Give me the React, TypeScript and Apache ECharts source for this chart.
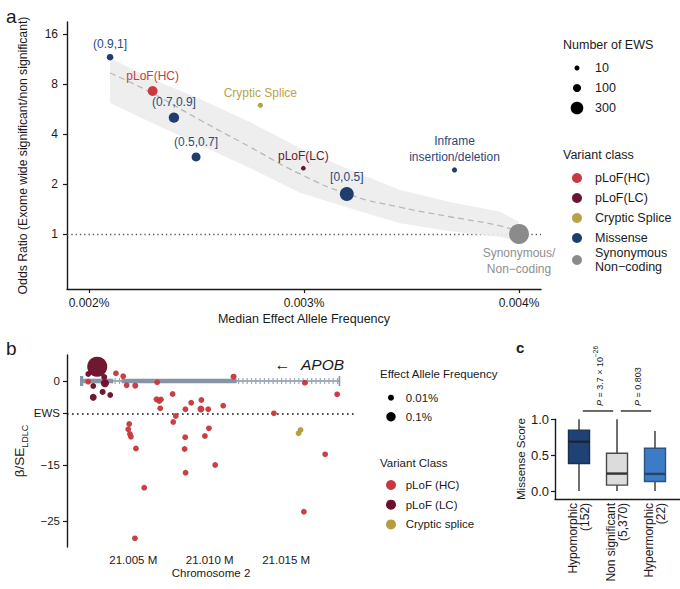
import { useEffect, useRef } from 'react';
import * as echarts from 'echarts';

const FONT = '"Liberation Sans", Arial, Helvetica, sans-serif';
const INK = '#1a1a1a';

// ---------- a: odds ratio vs median effect allele frequency
const aNames = ['(0.9,1]', 'pLoF(HC)', '(0.7,0.9]', '(0.5,0.7]', 'Cryptic Splice', 'pLoF(LC)', '[0,0.5]', 'Inframe\ninsertion/deletion', 'Synonymous/\nNon−coding'];
const aClass = ['Missense', 'pLoF(HC)', 'Missense', 'Missense', 'Cryptic Splice', 'pLoF(LC)', 'Missense', 'Missense', 'Synonymous'];
const aFreq = [0.002098, 0.002296, 0.002395, 0.002498, 0.002797, 0.002997, 0.003199, 0.0037, 0.004];
const aOdds = [11.6, 7.26, 5.02, 2.91, 5.95, 2.49, 1.74, 2.43, 1.0];
const aEws = [50, 170, 190, 130, 15, 3, 380, 15, 820];

// fitted trend and its confidence band
const fitFreq = [0.002098, 0.002284, 0.002516, 0.002749, 0.002981, 0.003214, 0.003447, 0.003679, 0.003912, 0.004];
const fitOdds = [9.32, 7.16, 4.86, 3.34, 2.3, 1.72, 1.45, 1.27, 1.12, 1.03];
const fitUpper = [11.47, 8.69, 6.5, 4.72, 3.29, 2.43, 1.84, 1.56, 1.36, 1.18];
const fitLower = [6.15, 4.72, 3.43, 2.5, 1.77, 1.43, 1.16, 1.04, 0.96, 0.9];

const aOddsTicks = [1, 2, 4, 8, 16];
const aFreqTicks = [0.002, 0.003, 0.004];
const ewsLegend = [10, 100, 300];
const aClassNames = ['pLoF(HC)', 'pLoF(LC)', 'Cryptic Splice', 'Missense', 'Synonymous'];
const aClassLegend = ['pLoF(HC)', 'pLoF(LC)', 'Cryptic Splice', 'Missense', 'Synonymous\nNon−coding'];
const aColors = ['#c93a40', '#6a1430', '#b9a245', '#1f3e6e', '#8b8b8b'];
const aLabelColors = ['#c63d44', '#6a1733', '#b7a44c', '#2a4a7a', '#8e8e8e'];

// ---------- b: APOB variants
const bClassNames = ['pLoF (HC)', 'pLoF (LC)', 'Cryptic splice'];
const bColors = ['#c7393f', '#6b0f2b', '#b59c3e'];
const bPos = [
  // pLoF (LC)
  21.002647, 21.002386, 21.002386, 21.003, 21.003497, 21.00315, 21.003105, 21.002059,
  // pLoF (HC)
  21.002059, 21.003869, 21.004346, 21.004569, 21.005131, 21.006569, 21.004739, 21.004673,
  21.004784, 21.00485, 21.005176, 21.005719, 21.005111, 21.006529, 21.006699, 21.00681,
  21.006765, 21.007575, 21.007778, 21.007614, 21.008412, 21.008791, 21.009458, 21.009425,
  21.009902, 21.010882, 21.008399, 21.008359, 21.009686, 21.009948, 21.008425, 21.010359,
  21.011562, 21.014196, 21.016222, 21.018333, 21.017549, 21.016157,
  // cryptic splice
  21.01581, 21.015941,
];
const bBeta = [
  2.55, -0.89, -2.91, -1.96, -2.5, -0.41, 0.71, 1.25,
  -0.12, 1.37, 0.84, -0.77, -0.84, -0.23, -7.68, -8.63,
  -9.46, -9.95, -12.05, -19.05, -28.09, -3.27, -3.57, -3.3,
  -4.88, -2.32, -6.25, -7.32, -5.05, -3.88, -3.39, -5.0,
  -5.05, -4.41, -10.05, -12.14, -9.82, -8.45, -16.38, -15.0,
  0.77, -5.77, -0.3, -2.38, -13.09, -23.34,
  -9.34, -8.75,
];
const bAF = [
  0.65, 0.005, 0.03, 0.01, 0.005, 0.06, 0.01, 0.005,
  0.005, 0.005, 0.005, 0.005, 0.01, 0.005, 0.005, 0.005,
  0.005, 0.005, 0.005, 0.005, 0.005, 0.01, 0.01, 0.005,
  0.005, 0.005, 0.005, 0.005, 0.005, 0.005, 0.005, 0.03,
  0.005, 0.005, 0.005, 0.005, 0.005, 0.005, 0.005, 0.005,
  0.01, 0.005, 0.005, 0.005, 0.005, 0.005,
  0.005, 0.005,
];
const bClass = [
  1, 1, 1, 1, 1, 1, 1, 1,
  0, 0, 0, 0, 0, 0, 0, 0,
  0, 0, 0, 0, 0, 0, 0, 0,
  0, 0, 0, 0, 0, 0, 0, 0,
  0, 0, 0, 0, 0, 0, 0, 0,
  0, 0, 0, 0, 0, 0,
  2, 2,
];
const EWS = -5.77;
const bTicks = [0, EWS, -15, -25];
const bPosTicks = [21.005, 21.01, 21.015];
const afLegend = [0.01, 0.1];

// APOB gene model (Mb)
const apobStart = 21.00152;
const apobEnd = 21.01846;
const apobExons = [[21.00152, 21.00173], [21.01843, 21.01849]];
const apobBlocks = [[21.00173, 21.00369], [21.00424, 21.01176]];

// ---------- c: missense score
const cGroups = ['Hypomorphic\n(152)', 'Non significant\n(5,370)', 'Hypermorphic\n(22)'];
// min, Q1, median, Q3, max
const cStats = [
  [0.01, 0.39, 0.69, 0.85, 1.0],
  [0.01, 0.09, 0.25, 0.53, 1.0],
  [0.01, 0.14, 0.245, 0.6, 0.84],
];
const cCompare = [[0, 1], [1, 2]];
const cPMantissa = ['3.7 × 10', '0.803'];
const cPExponent = ['−26', ''];
const cTicks = [0, 0.5, 1];

const cFill = ['#1f4276', '#dcdcdc', '#3b7cc4'];
const cStroke = ['#1b2f52', '#4a4a4a', '#2d5385'];
const cMedian = ['#1a2638', '#333333', '#264468'];

const ewsRadius = (n: number) => Math.sqrt(5 + 0.115 * n);
const afRadius = (af: number) => Math.sqrt(7.6 + 144 * af);

function buildOption() {
  const aSeries = aClassNames.map((cls, ci) => ({
    type: 'scatter',
    name: cls,
    xAxisIndex: 0,
    yAxisIndex: 0,
    z: 5,
    itemStyle: { color: aColors[ci], opacity: 1 },
    label: {
      show: true,
      formatter: '{b}',
      color: aLabelColors[ci],
      fontSize: 12,
      fontFamily: FONT,
      position: 'top',
      distance: 2,
      lineHeight: 16,
    },
    data: aNames.flatMap((nm, i) =>
      aClass[i] !== cls
        ? []
        : [{
            name: nm,
            value: [aFreq[i], Math.log2(aOdds[i])],
            symbolSize: 2 * ewsRadius(aEws[i]),
            ...(cls === 'Synonymous' ? { label: { position: 'bottom', distance: 1 } } : {}),
          }]
    ),
    ...(ci === 0
      ? {
          markLine: {
            silent: true,
            symbol: 'none',
            z: 1,
            label: { show: false },
            lineStyle: { color: '#555', type: [1.3, 3], width: 1.3 },
            data: [{ yAxis: 0 }],
          },
        }
      : {}),
  }));

  const bOrder = [0, 2, 1];
  const bSeries = bOrder.map((ci, k) => ({
    type: 'scatter',
    name: bClassNames[ci],
    xAxisIndex: 1,
    yAxisIndex: 1,
    z: 5 + k,
    itemStyle: { color: bColors[ci], opacity: 0.97 },
    data: bPos.flatMap((p, i) =>
      bClass[i] !== ci ? [] : [{ value: [p, bBeta[i]], symbolSize: 2 * afRadius(bAF[i]) }]
    ),
    ...(ci === 0
      ? {
          markLine: {
            silent: true,
            symbol: 'none',
            label: { show: false },
            lineStyle: { color: '#111', type: [1.6, 3.4], width: 1.6 },
            data: [{ yAxis: EWS }],
          },
        }
      : {}),
  }));

  const geneSeries = {
    type: 'custom',
    xAxisIndex: 1,
    yAxisIndex: 1,
    z: 2,
    silent: true,
    clip: false,
    data: [[apobStart, 0]],
    renderItem: (_p: any, api: any) => {
      const gray = '#8595a7';
      const [x0, y0] = api.coord([apobStart, 0]);
      const [x1] = api.coord([apobEnd, 0]);
      const children: any[] = [
        { type: 'line', shape: { x1: x0, y1: y0, x2: x1, y2: y0 }, style: { stroke: gray, lineWidth: 1.5 } },
      ];
      // strand arrows along the introns
      const gaps: number[][] = [];
      for (let i = 0; i < apobBlocks.length; i++) {
        const next = i + 1 < apobBlocks.length ? apobBlocks[i + 1][0] : apobExons[1][0];
        gaps.push([apobBlocks[i][1], next]);
      }
      gaps.forEach(([g0, g1]) => {
        const a = api.coord([g0, 0])[0];
        const b = api.coord([g1, 0])[0];
        for (let x = a + 2; x < b - 1; x += 4.3) {
          children.push({ type: 'line', shape: { x1: x, y1: y0 - 3, x2: x, y2: y0 + 3 }, style: { stroke: '#9aa8b8', lineWidth: 1.2 } });
        }
      });
      apobBlocks.forEach(([s, e]) => {
        const a = api.coord([s, 0])[0];
        const b = api.coord([e, 0])[0];
        children.push({ type: 'rect', shape: { x: a, y: y0 - 2.3, width: b - a, height: 4.6 }, style: { fill: gray } });
      });
      apobExons.forEach(([s, e]) => {
        const a = api.coord([s, 0])[0];
        const b = api.coord([e, 0])[0];
        children.push({ type: 'rect', shape: { x: a, y: y0 - 5, width: Math.max(b - a, 1.6), height: 10 }, style: { fill: gray } });
      });
      children.push({
        type: 'text',
        x: x1 + 5,
        y: y0 - 16,
        style: {
          text: '{a|← }{g|APOB}',
          align: 'right',
          verticalAlign: 'middle',
          rich: {
            a: { fontSize: 16, fontFamily: FONT, fill: INK },
            g: { fontSize: 15.5, fontFamily: FONT, fontStyle: 'italic', fill: INK, padding: [0, 0, 0, 6] },
          },
        },
      });
      return { type: 'group', children };
    },
  };

  const boxSeries = {
    type: 'custom',
    xAxisIndex: 2,
    yAxisIndex: 2,
    z: 3,
    data: cStats.map((s, i) => [i, ...s]),
    encode: { x: 0, y: [1, 2, 3, 4, 5] },
    renderItem: (params: any, api: any) => {
      const i = params.dataIndex;
      const bw = api.size([0.553, 0])[0];
      const x = api.coord([i, 0])[0];
      const y = (k: number) => api.coord([i, api.value(k)])[1];
      const yMin = y(1), yQ1 = y(2), yMed = y(3), yQ3 = y(4), yMax = y(5);
      return {
        type: 'group',
        children: [
          { type: 'line', shape: { x1: x, y1: yMax, x2: x, y2: yMin }, style: { stroke: '#555', lineWidth: 1.7 } },
          { type: 'rect', shape: { x: x - bw / 2, y: yQ3, width: bw, height: yQ1 - yQ3 }, style: { fill: cFill[i], stroke: cStroke[i], lineWidth: 1.4 } },
          { type: 'line', shape: { x1: x - bw / 2, y1: yMed, x2: x + bw / 2, y2: yMed }, style: { stroke: cMedian[i], lineWidth: 2.4 } },
        ],
      };
    },
  };

  const BRACKET_Y = 1.115;
  const bracketSeries = {
    type: 'custom',
    xAxisIndex: 2,
    yAxisIndex: 2,
    z: 4,
    clip: false,
    silent: true,
    data: cCompare.map((_c, k) => [k, BRACKET_Y]),
    renderItem: (params: any, api: any) => {
      const k = params.dataIndex;
      const [a, b] = cCompare[k];
      const p1 = api.coord([a + 0.1, BRACKET_Y]);
      const p2 = api.coord([b - 0.1, BRACKET_Y]);
      const mid = (p1[0] + p2[0]) / 2;
      const txt = cPExponent[k]
        ? `{i|P}{n| = ${cPMantissa[k]}}{s|${cPExponent[k]}}`
        : `{i|P}{n| = ${cPMantissa[k]}}`;
      return {
        type: 'group',
        children: [
          { type: 'line', shape: { x1: p1[0], y1: p1[1], x2: p2[0], y2: p2[1] }, style: { stroke: INK, lineWidth: 1.3 } },
          {
            type: 'text',
            x: mid,
            y: p1[1] - 5,
            rotation: Math.PI / 2,
            style: {
              text: txt,
              fontSize: 9,
              fontFamily: FONT,
              fill: INK,
              align: 'left',
              verticalAlign: 'middle',
              rich: {
                i: { fontSize: 9, fontFamily: FONT, fontStyle: 'italic', fill: INK, lineHeight: 12, verticalAlign: 'bottom' },
                n: { fontSize: 9, fontFamily: FONT, fill: INK, lineHeight: 12, verticalAlign: 'bottom' },
                s: { fontSize: 6.5, fontFamily: FONT, fill: INK, lineHeight: 7, verticalAlign: 'top' },
              },
            },
          },
        ],
      };
    },
  };

  const txt = (x: number, y: number, text: string, size: number, extra: any = {}) => ({
    type: 'text',
    x,
    y,
    silent: true,
    style: { text, fontSize: size, fontFamily: FONT, fill: INK, align: 'left', verticalAlign: 'middle', ...extra },
  });

  const graphic: any[] = [
    txt(6, 16, 'a', 19),
    txt(6, 348, 'b', 19),
    txt(516, 347, 'c', 15, { fontWeight: 'bold' }),
    // legend a
    txt(563, 45, 'Number of EWS', 12.5),
    ...ewsLegend.flatMap((n, i) => [
      { type: 'circle', silent: true, shape: { cx: 577, cy: 68 + i * 20, r: ewsRadius(n) }, style: { fill: '#000' } },
      txt(595, 68 + i * 20, String(n), 12.5),
    ]),
    txt(563, 155, 'Variant class', 12.5),
    ...aClassLegend.flatMap((nm, i) => {
      const cy = 178 + i * 20 + (i === 4 ? 2 : 0);
      return [
        { type: 'circle', silent: true, shape: { cx: 577, cy, r: 5 }, style: { fill: aColors[i] } },
        txt(595, cy, nm, 12.5, { lineHeight: 14 }),
      ];
    }),
    // legend b
    txt(380, 374, 'Effect Allele Frequency', 11.5),
    ...afLegend.flatMap((af, i) => [
      { type: 'circle', silent: true, shape: { cx: 391, cy: 397.7 + i * 19, r: afRadius(af) }, style: { fill: '#000' } },
      txt(405.7, 397.7 + i * 19, `${af}%`, 11.5),
    ]),
    txt(380, 462.7, 'Variant Class', 11.5),
    ...bClassNames.flatMap((nm, i) => [
      { type: 'circle', silent: true, shape: { cx: 391, cy: 485 + i * 19.7, r: 5 }, style: { fill: bColors[i] } },
      txt(405.7, 485 + i * 19.7, nm, 11.5),
    ]),
  ];

  const axisLine = { show: true, onZero: false, lineStyle: { color: INK, width: 1.4 } };
  const tickStyle = { color: INK, width: 1.2 };

  return {
    animation: false,
    textStyle: { fontFamily: FONT },
    grid: [
      { left: 67, top: 22, width: 474, height: 267 },
      { left: 67, top: 355, width: 288, height: 192 },
      { left: 555, top: 419.3, width: 125, height: 79.6 },
    ],
    xAxis: [
      {
        gridIndex: 0,
        type: 'value',
        min: 0.0018977,
        max: 0.0041023,
        name: 'Median Effect Allele Frequency',
        nameLocation: 'middle',
        nameGap: 23,
        nameTextStyle: { fontSize: 12.5, color: INK, fontFamily: FONT },
        axisLine,
        axisTick: { show: true, customValues: aFreqTicks, length: 4, lineStyle: tickStyle },
        axisLabel: { customValues: aFreqTicks, formatter: (v: number) => `${v.toFixed(3)}%`, fontSize: 12, color: INK, margin: 8 },
        splitLine: { show: false },
      },
      {
        gridIndex: 1,
        type: 'value',
        min: 21.00067,
        max: 21.0195,
        name: 'Chromosome 2',
        nameLocation: 'middle',
        nameGap: 19,
        nameTextStyle: { fontSize: 11.5, color: INK, fontFamily: FONT },
        axisLine: { show: false, onZero: false },
        axisTick: { show: false },
        axisLabel: { customValues: bPosTicks, formatter: (v: number) => `${v.toFixed(3)} M`, fontSize: 11.5, color: INK, margin: 7 },
        splitLine: { show: false },
      },
      {
        gridIndex: 2,
        type: 'value',
        min: -0.632,
        max: 2.658,
        axisLine,
        axisTick: { show: false },
        axisLabel: {
          customValues: [0, 1, 2],
          formatter: (v: number) => cGroups[Math.round(v)],
          rotate: 90,
          fontSize: 12,
          lineHeight: 12.5,
          color: INK,
          margin: 4,
        },
        splitLine: { show: false },
      },
    ],
    yAxis: [
      {
        gridIndex: 0,
        type: 'value',
        min: -1.1,
        max: 4.24,
        name: 'Odds Ratio (Exome wide significant/non significant)',
        nameLocation: 'middle',
        nameGap: 38,
        nameTextStyle: { fontSize: 12.2, color: INK, fontFamily: FONT },
        axisLine,
        axisTick: { show: true, customValues: aOddsTicks.map(Math.log2), length: 4, lineStyle: tickStyle },
        axisLabel: {
          customValues: aOddsTicks.map(Math.log2),
          formatter: (v: number) => String(Math.round(Math.pow(2, v))),
          fontSize: 12,
          color: INK,
          margin: 9,
        },
        splitLine: { show: false },
      },
      {
        gridIndex: 1,
        type: 'value',
        min: -29.64,
        max: 4.64,
        name: '{t|β/SE}{s|LDLC}',
        nameLocation: 'middle',
        nameGap: 26,
        nameTextStyle: {
          color: INK,
          rich: {
            t: { fontSize: 13.5, fontFamily: FONT, color: INK, lineHeight: 15, verticalAlign: 'top' },
            s: { fontSize: 9, fontFamily: FONT, color: INK, lineHeight: 9, padding: [8, 0, 0, 0], verticalAlign: 'top' },
          },
        },
        axisLine,
        axisTick: { show: true, customValues: bTicks, length: 4, lineStyle: tickStyle },
        axisLabel: {
          customValues: bTicks,
          formatter: (v: number) => (Math.abs(v - EWS) < 0.01 ? 'EWS' : v < 0 ? `−${Math.abs(v)}` : String(v)),
          fontSize: 11.5,
          color: INK,
          margin: 7,
        },
        splitLine: { show: false },
      },
      {
        gridIndex: 2,
        type: 'value',
        min: -0.1,
        max: 1.0,
        name: 'Missense Score',
        nameLocation: 'middle',
        nameGap: 28,
        nameTextStyle: { fontSize: 11.5, color: INK, fontFamily: FONT },
        axisLine,
        axisTick: { show: true, customValues: cTicks, length: 4, lineStyle: tickStyle },
        axisLabel: { customValues: cTicks, formatter: (v: number) => v.toFixed(1), fontSize: 13, color: INK, margin: 6 },
        splitLine: { show: false },
      },
    ],
    series: [
      {
        type: 'custom',
        xAxisIndex: 0,
        yAxisIndex: 0,
        z: 1,
        silent: true,
        data: [[fitFreq[0], Math.log2(fitOdds[0])]],
        renderItem: (_p: any, api: any) => {
          const up = fitFreq.map((x, i) => api.coord([x, Math.log2(fitUpper[i])]));
          const lo = fitFreq.map((x, i) => api.coord([x, Math.log2(fitLower[i])])).reverse();
          return { type: 'polygon', shape: { points: [...up, ...lo] }, style: { fill: '#ececec', opacity: 0.9 } };
        },
      },
      {
        type: 'line',
        xAxisIndex: 0,
        yAxisIndex: 0,
        z: 2,
        silent: true,
        smooth: true,
        showSymbol: false,
        lineStyle: { color: '#b8b8b8', width: 1.3, type: [6, 4] },
        data: fitFreq.map((x, i) => [x, Math.log2(fitOdds[i])]),
      },
      ...aSeries,
      geneSeries,
      ...bSeries,
      boxSeries,
      bracketSeries,
    ],
    graphic,
  };
}

export default function App() {
  const ref = useRef<HTMLDivElement>(null);

  useEffect(() => {
    if (!ref.current) return;
    const chart = echarts.init(ref.current, undefined, { renderer: 'svg' });
    chart.setOption(buildOption() as any);
    return () => chart.dispose();
  }, []);

  return (
    <div
      ref={ref}
      style={{ position: 'fixed', left: 0, top: 0, width: 680, height: 589, background: '#fff' }}
    />
  );
}
